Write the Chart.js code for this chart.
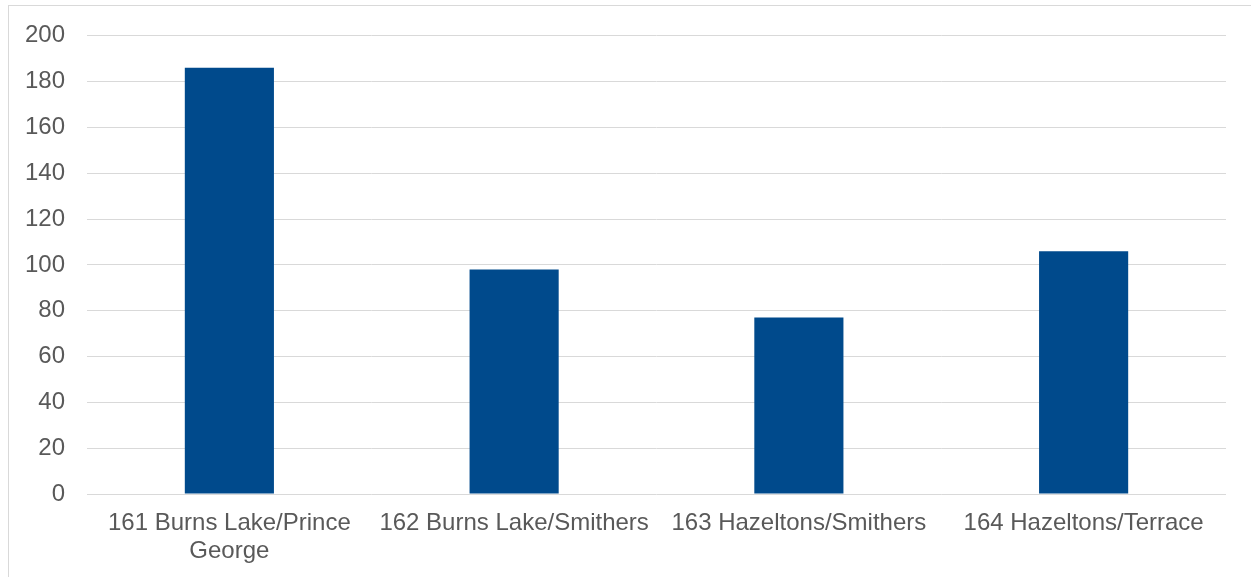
<!DOCTYPE html>
<html>
<head>
<meta charset="utf-8">
<script src="https://cdn.jsdelivr.net/npm/chart.js@4/dist/chart.umd.min.js"></script>
<style>
  html, body { margin: 0; padding: 0; background: #ffffff; }
  #wrap { position: relative; width: 1251px; height: 577px; overflow: hidden; }
  #frame { position: absolute; left: 8px; top: 5px; width: 1300px; height: 700px;
           border-left: 1px solid #d9d9d9; border-top: 1px solid #d9d9d9; box-sizing: border-box; }
  #c { position: absolute; left: 0; top: 0; }
</style>
</head>
<body>
<div id="wrap">
  <div id="frame"></div>
  <canvas id="c" width="1251" height="577"></canvas>
</div>
<script>
// Route categories (multi-line labels where the text wraps)
const categories = [
  ["161 Burns Lake/Prince", "George"],
  "162 Burns Lake/Smithers",
  "163 Hazeltons/Smithers",
  "164 Hazeltons/Terrace"
];
// Values per route
const values = [186, 98, 77, 106];
// Value axis range
const yMin = 0;
const yMax = 200;
const yStep = 20;

const textColor = '#595959';
const gridColor = '#d9d9d9';
const barColor = '#004a8c';
const font = { family: '"Liberation Sans", Arial, sans-serif', size: 24, lineHeight: 1.15 };

new Chart(document.getElementById('c'), {
  type: 'bar',
  data: {
    labels: categories,
    datasets: [{
      data: values,
      backgroundColor: barColor,
      borderWidth: 0,
      categoryPercentage: 1,
      barPercentage: 0.313
    }]
  },
  options: {
    responsive: false,
    animation: false,
    layout: { padding: { left: 0, right: 25, top: 34, bottom: 0 } },
    plugins: { legend: { display: false }, tooltip: { enabled: false } },
    scales: {
      x: {
        grid: { display: false, drawTicks: false },
        border: { display: false },
        ticks: { color: textColor, font: font, padding: 16, maxRotation: 0, autoSkip: false },
        afterFit: (s) => { s.height = 83; }
      },
      y: {
        min: yMin,
        max: yMax,
        grid: { color: gridColor, lineWidth: 1, drawTicks: false },
        border: { display: false },
        ticks: { stepSize: yStep, color: textColor, font: font, padding: 22 },
        afterFit: (s) => { s.width = 87; }
      }
    }
  }
});
</script>
</body>
</html>
